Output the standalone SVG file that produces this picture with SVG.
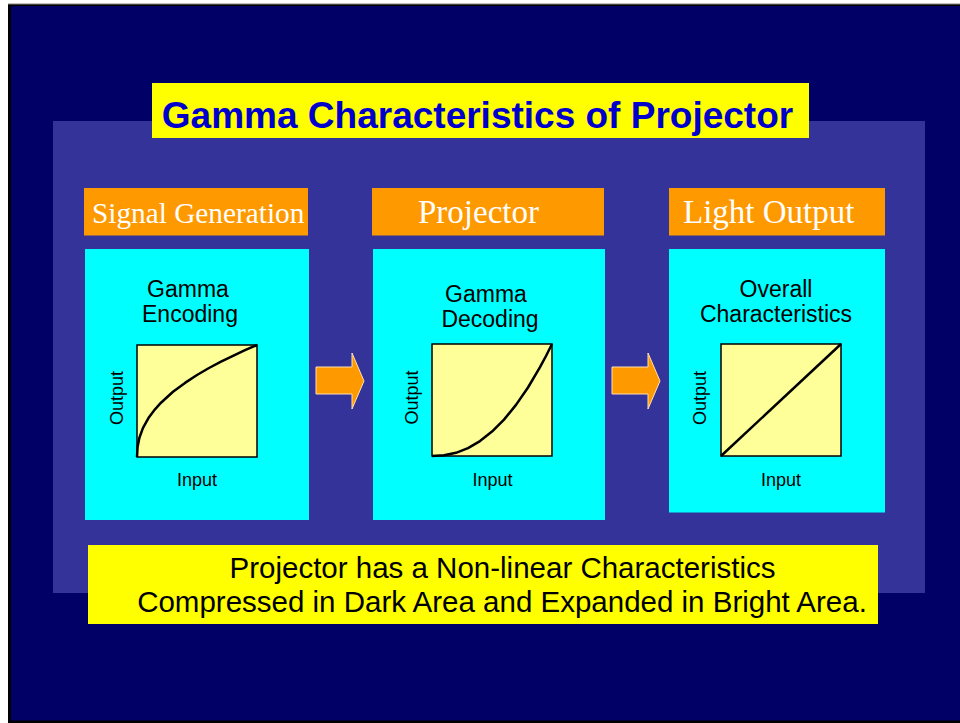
<svg xmlns="http://www.w3.org/2000/svg" width="960" height="723" viewBox="0 0 960 723">
<style>
.hdr{fill:#ff9900}
.hdrt{font-family:"Liberation Serif","Times New Roman",serif;fill:#ffffff}
.box{fill:#00ffff}
.sq{fill:#ffff99;stroke:#000000;stroke-width:1.5}
.crv{fill:none;stroke:#000000;stroke-width:2.5;stroke-linejoin:round}
.ct{font-family:"Liberation Sans",Arial,sans-serif;font-size:23px;fill:#000000;text-anchor:middle}
.ax{font-family:"Liberation Sans",Arial,sans-serif;font-size:18px;fill:#000000;text-anchor:middle}
.arr{fill:#ff9900;stroke:#ffe0b0;stroke-width:1}
.note{font-family:"Liberation Sans",Arial,sans-serif;font-size:29.5px;fill:#000000;text-anchor:middle}
</style>
<rect x="0" y="0" width="960" height="723" fill="#ffffff"/>
<rect x="8" y="3" width="952" height="1.5" fill="#c0c0c0"/>
<rect x="8" y="4.3" width="952" height="718.7" fill="#000000"/>
<rect x="11" y="6" width="949" height="714.5" fill="#000066"/>
<rect x="53" y="121" width="872" height="472" fill="#333399"/>

<g id="title">
<rect x="152" y="83" width="657" height="55" fill="#ffff00"/>
<text x="477.5" y="128" font-family="'Liberation Sans',Arial,sans-serif" font-size="37" font-weight="bold" fill="#0000cc" text-anchor="middle">Gamma Characteristics of Projector</text>
</g>

<g id="signal-generation">
<rect class="hdr" x="84" y="188" width="224" height="47.5"/>
<text class="hdrt" x="92" y="223" font-size="29.3">Signal Generation</text>
<rect class="box" x="85" y="249" width="224" height="271"/>
<text class="ct" x="188" y="297">Gamma</text>
<text class="ct" x="190" y="322">Encoding</text>
<rect class="sq" x="137" y="345" width="120" height="112"/>
<polyline class="crv" points="137,457 137.6,446.7 139.4,437.7 143,427.9 149,417.2 155,409.3 161,402.7 173,391.8 185,382.9 197,375 209,368 221,361.6 233,355.8 245,350.2 257,345"/>
<text class="ax" x="197" y="486">Input</text>
<text class="ax" transform="translate(123,398) rotate(-90)">Output</text>
</g>

<g id="projector">
<rect class="hdr" x="372" y="188" width="232" height="47.5"/>
<text class="hdrt" x="418" y="223" font-size="33">Projector</text>
<rect class="box" x="373" y="249" width="232" height="271"/>
<text class="ct" x="486" y="302">Gamma</text>
<text class="ct" x="490" y="327">Decoding</text>
<rect class="sq" x="432" y="344" width="120" height="112"/>
<polyline class="crv" points="432,456 444,455.3 456,452.8 468,448.1 480,441.1 492,431.6 504,419.6 516,404.9 528,387.5 540,367.2 546,356 552,344"/>
<text class="ax" x="492.5" y="486">Input</text>
<text class="ax" transform="translate(418,397.5) rotate(-90)">Output</text>
</g>

<g id="light-output">
<rect class="hdr" x="669" y="188" width="216" height="47.5"/>
<text class="hdrt" x="683" y="223" font-size="33">Light Output</text>
<rect class="box" x="669" y="249" width="216" height="263.5"/>
<text class="ct" x="776" y="297">Overall</text>
<text class="ct" x="776" y="322">Characteristics</text>
<rect class="sq" x="721" y="344" width="120" height="112"/>
<line class="crv" x1="721" y1="456" x2="841" y2="344"/>
<text class="ax" x="781" y="486">Input</text>
<text class="ax" transform="translate(706,398) rotate(-90)">Output</text>
</g>

<g id="connectors">
<polygon class="arr" points="316,367 352,367 352,353 364,381 352,409 352,394 316,394"/>
<polygon class="arr" points="612,367 648,367 648,353 660,381 648,409 648,394 612,394"/>
</g>

<g id="note">
<rect x="88" y="545" width="790" height="79" fill="#ffff00"/>
<text class="note" x="502.5" y="578">Projector has a Non-linear Characteristics</text>
<text class="note" x="502" y="612">Compressed in Dark Area and Expanded in Bright Area.</text>
</g>
</svg>
